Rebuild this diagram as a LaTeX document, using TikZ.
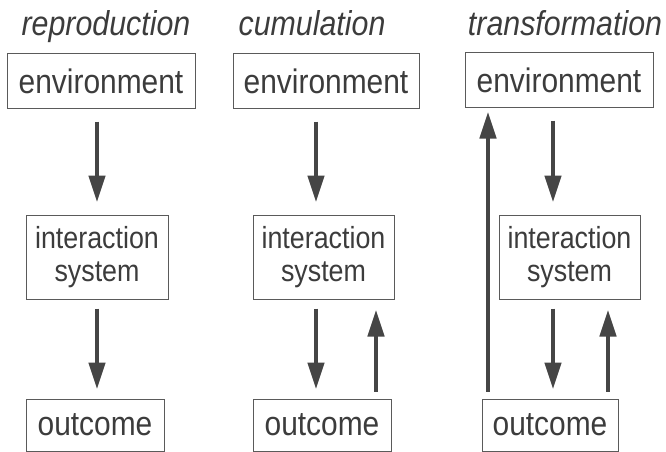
\documentclass[tikz,border=0pt]{standalone}
\usepackage{fontspec}
\setmainfont[FakeStretch=0.88]{Liberation Sans}
\usetikzlibrary{arrows.meta}
\definecolor{txt}{HTML}{3C3C3C}
\definecolor{frame}{HTML}{5A5A5A}
\definecolor{arrc}{HTML}{454545}
\begin{document}
\begin{tikzpicture}[x=1pt,y=-1pt,
  box/.style={draw=frame, line width=1pt, inner sep=0pt, text=txt, align=center},
  envbox/.style={box, minimum height=54pt, font=\fontsize{34}{33}\selectfont},
  intbox/.style={box, minimum height=84pt, font=\fontsize{30.5}{33}\selectfont},
  outbox/.style={box, minimum height=52pt, font=\fontsize{34}{33}\selectfont},
  title/.style={anchor=base, text=txt, inner sep=0pt, font=\fontsize{34.5}{33}\selectfont\itshape},
  arr/.style={draw=arrc, line width=4.5pt, -{Triangle[length=27pt,width=16pt]}}
]
\useasboundingbox (0,0) rectangle (666,452);

% titles
\node[title] (t1) at (106,36) {reproduction};
\node[title] (t2) at (312,36) {cumulation};
\node[title] (t3) at (565,36) {transformation};

% environment boxes
\node[envbox, minimum width=188pt] (env1) at (101,81) {environment};
\node[envbox, minimum width=186pt] (env2) at (326,81) {environment};
\node[envbox, minimum width=188pt] (env3) at (559,80) {environment};

% interaction boxes
\node[intbox, minimum width=142pt] (int1) at (97,257) {interaction\\system};
\node[intbox, minimum width=141pt] (int2) at (323.5,257) {interaction\\system};
\node[intbox, minimum width=141pt] (int3) at (569.5,257) {interaction\\system};

% outcome boxes
\node[outbox, minimum width=138pt] (out1) at (95,425) {outcome};
\node[outbox, minimum width=138pt] (out2) at (322,425) {outcome};
\node[outbox, minimum width=136pt] (out3) at (550,425) {outcome};

% arrow columns
\coordinate (a1) at (97,0);
\coordinate (a2d) at (316,0);
\coordinate (a2u) at (376,0);
\coordinate (a3l) at (488,0);
\coordinate (a3d) at (553,0);
\coordinate (a3u) at (608,0);

% reproduction
\draw[arr, shorten <=13pt, shorten >=12pt] (a1 |- env1.south) -- (a1 |- int1.north);
\draw[arr, shorten <=9pt, shorten >=9pt] (a1 |- int1.south) -- (a1 |- out1.north);

% cumulation
\draw[arr, shorten <=13pt, shorten >=12pt] (a2d |- env2.south) -- (a2d |- int2.north);
\draw[arr, shorten <=9pt, shorten >=9pt] (a2d |- int2.south) -- (a2d |- out2.north);
\draw[arr, shorten <=7pt, shorten >=10pt] (a2u |- out2.north) -- (a2u |- int2.south);

% transformation
\draw[arr, shorten <=7pt, shorten >=4pt] (a3l |- out3.north) -- (a3l |- env3.south);
\draw[arr, shorten <=13pt, shorten >=12pt] (a3d |- env3.south) -- (a3d |- int3.north);
\draw[arr, shorten <=9pt, shorten >=9pt] (a3d |- int3.south) -- (a3d |- out3.north);
\draw[arr, shorten <=7pt, shorten >=10pt] (a3u |- out3.north) -- (a3u |- int3.south);
\end{tikzpicture}
\end{document}
